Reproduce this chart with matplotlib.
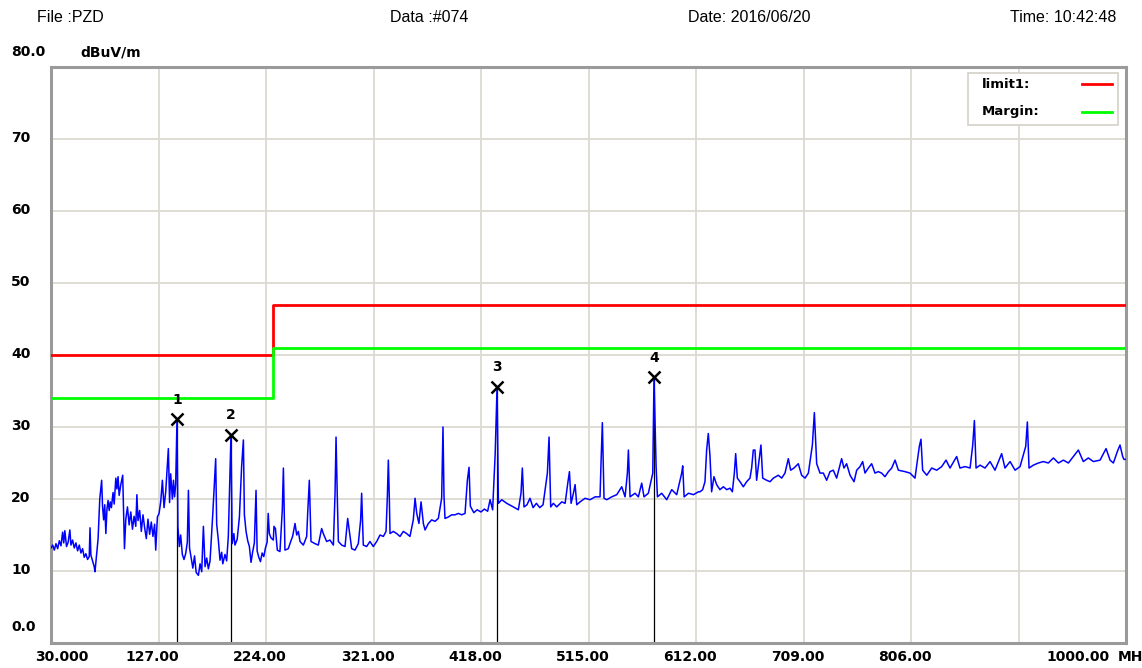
import matplotlib
matplotlib.use('Agg')
import matplotlib.pyplot as plt
import matplotlib.transforms as mtransforms
from matplotlib.patches import Rectangle
from matplotlib.lines import Line2D

# header
header_texts = ['File :PZD', 'Data :#074', 'Date: 2016/06/20', 'Time: 10:42:48']

# axis ticks
x_ticks = [30, 127, 224, 321, 418, 515, 612, 709, 806, 903, 1000]
x_tick_labels = ['30.000', '127.00', '224.00', '321.00', '418.00', '515.00',
                 '612.00', '709.00', '806.00', '', '1000.00']
y_ticks = [0, 10, 20, 30, 40, 50, 60, 70, 80]
y_tick_labels = ['0.0', '10', '20', '30', '40', '50', '60', '70', '80.0']

# limit lines (MHz, dBuV/m)
limit_freq = [30, 230, 230, 1000]
limit_level = [40, 40, 47, 47]
margin_level = [34, 34, 41, 41]
legend_labels = ['limit1:', 'Margin:']

# markers
marker_ids = ['1', '2', '3', '4']
marker_freq = [143.7, 192.4, 432.5, 574.1]
marker_level = [31.1, 28.9, 35.6, 36.9]

trace_low = [
    (30.0, 13.2), (31.5, 13.6), (33.0, 12.9), (34.5, 13.8), (36.0, 13.1), (37.5, 14.2),
    (39.0, 13.5), (40.5, 15.4), (41.5, 13.9), (42.5, 15.6), (44.0, 13.4), (45.5, 14.0),
    (47.0, 15.7), (48.0, 13.6), (49.5, 14.3), (51.0, 13.2), (52.5, 13.9), (54.0, 12.8),
    (55.5, 13.6), (57.0, 12.5), (58.5, 13.1), (60.0, 11.9), (61.5, 12.4), (63.0, 11.6),
    (64.5, 12.0), (65.2, 16.0), (66.0, 12.2), (67.5, 11.4), (69.0, 10.6), (69.7, 9.9),
    (71.0, 12.0), (72.5, 14.5), (74.0, 20.0), (75.7, 22.6), (76.5, 19.0), (77.5, 17.1),
    (78.5, 19.2), (79.5, 15.2), (80.5, 18.6), (81.5, 19.8), (82.5, 18.4), (83.5, 19.6),
    (84.5, 18.8), (86.0, 20.9), (87.0, 19.3), (88.5, 22.9), (89.5, 21.4), (90.5, 23.1),
    (91.5, 20.5), (93.0, 22.0), (94.7, 23.3), (95.5, 18.0), (96.3, 13.1), (97.5, 17.2),
    (99.0, 18.9), (100.5, 16.4), (102.0, 18.2), (103.5, 15.8), (105.0, 17.6), (106.5, 16.2),
    (107.5, 20.6), (108.5, 17.0), (110.0, 18.4), (111.5, 15.5), (113.0, 17.8), (114.5, 16.0),
    (116.0, 14.5), (117.5, 17.2), (119.0, 15.1), (120.5, 16.8), (122.0, 14.8), (123.5, 16.5),
    (124.5, 12.9), (126.0, 17.5), (127.5, 18.0), (129.0, 19.6), (130.5, 22.6), (132.0, 18.8),
    (133.5, 21.0), (135.9, 27.0), (137.0, 19.5), (138.0, 23.5), (139.5, 20.0), (140.5, 22.6),
    (141.5, 20.3), (142.5, 22.0), (143.7, 31.1), (144.5, 16.2), (145.8, 13.4), (147.0, 15.0),
    (148.5, 12.3), (150.0, 11.6), (151.5, 12.4), (153.0, 14.0), (154.0, 21.2), (155.0, 13.2),
    (156.5, 11.8), (158.0, 10.4), (159.5, 12.1), (161.0, 9.8), (163.0, 9.4), (164.5, 11.0),
    (166.0, 9.9), (167.5, 16.2), (169.0, 10.6), (170.5, 11.8), (172.0, 10.3), (173.5, 11.4),
    (176.0, 18.0), (178.6, 25.6), (179.5, 16.5), (181.0, 14.3), (182.5, 11.5), (184.0, 12.6),
    (185.0, 11.0), (187.0, 12.3), (188.5, 11.4), (190.0, 14.8), (191.0, 20.8), (192.4, 28.9),
    (193.5, 13.8), (195.0, 15.2), (196.0, 13.6), (198.0, 14.4), (200.0, 17.5), (202.0, 24.5),
    (203.6, 28.2), (204.5, 17.8), (206.0, 15.5), (207.5, 14.2), (209.0, 13.4), (210.5, 11.2),
    (212.0, 12.7), (213.5, 13.9), (215.0, 21.2), (216.0, 12.8), (217.5, 11.9), (219.0, 11.3),
    (220.5, 12.5), (222.0, 12.0), (223.5, 13.2), (225.0, 14.0), (226.0, 18.0), (227.0, 15.2),
]
trace_mid = [
    (228.5, 14.6), (230.6, 14.3), (231.2, 16.2), (232.5, 15.9), (234.2, 12.9), (236.6, 12.7),
    (238.7, 18.5), (239.7, 24.3), (240.6, 17.0), (241.1, 12.9), (244.1, 13.1), (246.3, 14.1),
    (248.0, 14.8), (250.2, 16.6), (251.7, 15.0), (253.2, 15.5), (254.7, 14.1), (257.7, 13.6),
    (260.7, 14.8), (261.6, 18.0), (263.1, 22.6), (264.6, 14.1), (268.2, 13.8), (271.2, 13.6),
    (274.2, 15.9), (275.7, 15.2), (278.7, 14.1), (281.7, 14.3), (284.8, 13.6), (286.3, 20.8),
    (287.2, 28.6), (288.3, 20.5), (289.3, 14.1), (292.3, 13.6), (295.3, 13.4), (297.7, 17.3),
    (299.2, 15.5), (301.3, 13.1), (304.3, 12.9), (307.3, 13.8), (309.4, 17.1), (310.3, 20.8),
    (311.8, 13.6), (314.8, 13.4), (317.8, 14.1), (320.8, 13.4), (323.9, 14.1), (326.9, 15.0),
    (329.9, 14.8), (332.3, 15.5), (333.5, 20.3), (334.4, 25.4), (335.3, 20.0), (335.9, 15.2),
    (338.9, 15.5), (341.9, 15.2), (344.9, 14.8), (347.9, 15.5), (350.9, 15.2), (353.9, 14.8),
    (356.9, 17.1), (358.5, 20.1), (360.0, 18.0), (362.0, 16.6), (363.9, 19.6), (366.0, 16.6),
    (367.5, 15.7), (370.5, 16.6), (373.5, 17.1), (376.5, 16.9), (379.5, 17.3), (382.5, 20.1),
    (383.7, 30.0), (384.6, 20.5), (385.5, 17.3), (388.5, 17.5), (391.5, 17.8), (394.5, 17.8),
    (397.6, 18.0), (400.6, 17.8), (403.6, 18.0), (405.7, 22.6), (407.2, 24.4), (408.4, 19.0),
]
trace_upper = [
    (411.5, 18.1), (414.5, 18.5), (418.0, 18.2), (421.0, 18.6), (424.0, 18.3), (426.2, 19.9),
    (428.5, 18.5), (430.8, 26.3), (432.5, 35.6), (433.7, 19.4), (436.7, 19.9), (441.2, 19.4),
    (447.2, 18.9), (451.7, 18.5), (454.1, 20.8), (455.3, 24.3), (456.8, 18.9), (459.5, 19.2),
    (462.2, 20.1), (465.0, 18.8), (468.0, 19.4), (471.0, 18.8), (474.0, 19.2), (477.9, 23.6),
    (479.4, 28.6), (480.9, 18.9), (483.3, 19.4), (486.3, 18.9), (490.9, 19.6), (493.9, 19.4),
    (496.3, 22.2), (497.8, 23.8), (499.3, 19.4), (501.4, 20.8), (502.9, 22.0), (504.4, 19.2),
    (507.4, 19.6), (511.9, 20.1), (516.4, 19.9), (521.0, 20.3), (525.4, 20.3), (526.3, 25.0),
    (527.5, 30.6), (529.0, 20.1), (531.5, 19.9), (536.0, 20.3), (540.5, 20.6), (545.0, 21.7),
    (548.0, 20.3), (550.1, 23.6), (551.0, 26.8), (552.5, 20.3), (557.0, 20.8), (560.0, 20.3),
    (563.0, 22.2), (565.1, 20.3), (569.0, 20.8), (573.0, 23.6), (574.1, 36.9), (576.0, 24.5),
    (577.2, 20.3), (581.0, 20.8), (585.6, 19.9), (590.1, 21.3), (594.6, 20.6), (599.1, 23.6),
    (600.0, 24.6), (601.3, 20.3), (605.2, 20.8), (609.7, 20.6), (614.2, 21.0),
]
trace_high = [
    (615.6, 21.0), (618.0, 21.3), (620.1, 22.4), (621.6, 26.8), (623.1, 29.1), (624.6, 26.0),
    (626.1, 21.0), (628.2, 23.1), (630.6, 22.0), (633.6, 21.3), (636.7, 21.7), (639.7, 21.3),
    (642.7, 21.5), (644.8, 21.0), (646.6, 23.6), (647.8, 26.3), (649.3, 22.9), (651.7, 22.4),
    (654.7, 21.7), (657.7, 22.4), (660.7, 22.9), (662.2, 24.3), (663.7, 26.8), (665.2, 26.8),
    (666.7, 22.6), (668.8, 25.2), (670.6, 27.5), (672.2, 22.9), (675.8, 22.6), (678.8, 22.4),
    (681.8, 22.9), (686.3, 23.3), (689.3, 22.9), (692.3, 23.6), (695.3, 25.6), (697.4, 24.0),
    (700.4, 24.3), (704.3, 24.9), (707.3, 23.3), (710.4, 22.9), (713.4, 23.6), (717.0, 27.5),
    (718.8, 32.0), (720.9, 24.9), (723.9, 23.6), (726.9, 23.6), (729.9, 22.6), (732.9, 23.8),
    (735.9, 24.0), (738.9, 22.9), (743.4, 25.6), (745.5, 24.3), (747.9, 24.9), (751.0, 23.3),
    (754.6, 22.4), (757.0, 24.0), (760.0, 24.5), (762.4, 25.2), (764.5, 23.6), (767.5, 24.3),
    (770.5, 24.9), (773.5, 23.6), (776.5, 23.8), (779.5, 23.6), (782.5, 23.1), (785.6, 23.8),
    (788.6, 24.3), (791.6, 25.4), (794.6, 24.0), (800.6, 23.8), (805.1, 23.6), (809.6, 22.9),
    (813.5, 27.3), (815.0, 28.3), (816.5, 24.0), (820.2, 23.3), (824.7, 24.3), (829.2, 24.0),
    (833.7, 24.5), (837.6, 25.4), (841.2, 24.3), (847.2, 25.9), (850.2, 24.3), (854.8, 24.5),
    (859.3, 24.3), (861.7, 27.5), (863.2, 30.9), (864.7, 24.3), (868.3, 24.7), (872.8, 24.3),
    (877.3, 25.2), (881.8, 24.0), (887.8, 26.3), (890.8, 24.3), (895.4, 25.2), (899.9, 24.0),
    (904.4, 24.5), (909.5, 27.3), (911.0, 30.7), (912.5, 24.3), (916.4, 24.7), (920.9, 25.0),
    (925.4, 25.2), (929.9, 25.0), (934.5, 25.7), (939.0, 25.0), (943.5, 25.4), (948.0, 25.0),
    (952.5, 25.9), (957.0, 26.8), (961.5, 25.2), (966.0, 25.7), (970.6, 25.2), (976.6, 25.4),
    (982.0, 27.0), (985.6, 25.4), (988.6, 25.0), (992.2, 26.6), (994.6, 27.5), (997.0, 25.9),
    (998.2, 25.5), (1000.0, 25.5),
]

trace = trace_low + trace_mid + trace_upper + trace_high
freq = [p[0] for p in trace]
level = [p[1] for p in trace]

W, H = 1142, 668
fig = plt.figure(figsize=(W / 100, H / 100), dpi=100)
ax_l, ax_r, ax_t, ax_b = 51, 1126, 67, 643
ax = fig.add_axes([ax_l / W, 1 - ax_b / H, (ax_r - ax_l) / W, (ax_b - ax_t) / H])
ax.set_xlim(30, 1000)
ax.set_ylim(0, 80)

# grid
ax.set_xticks(x_ticks)
ax.set_yticks(y_ticks)
ax.tick_params(length=0, labelbottom=False, labelleft=False)
ax.grid(True, color='#dcd9d2', linewidth=1.3)
ax.set_axisbelow(True)
for s in ax.spines.values():
    s.set_color('#9a9a9a')
    s.set_linewidth(2.2)

# limits
ax.plot(limit_freq, limit_level, color='#ff0000', linewidth=2.0, zorder=3)
ax.plot(limit_freq, margin_level, color='#00ff00', linewidth=2.0, zorder=3)

# marker lines under the trace
ax.vlines(marker_freq, 0, marker_level, color='black', linewidth=0.9, zorder=2)

# trace
ax.plot(freq, level, color='#0000ff', linewidth=1.1, zorder=4)

# markers
ax.plot(marker_freq, marker_level, 'x', color='black', markersize=8, mew=1.8, zorder=5)
for mid, f, v in zip(marker_ids, marker_freq, marker_level):
    ax.annotate(mid, (f, v), xytext=(0, 9), textcoords='offset points',
                ha='center', va='bottom', fontsize=10, fontweight='bold',
                family='DejaVu Sans', zorder=6)

# y labels
ytrans = ax.get_yaxis_transform()
y_label_x = (11 - ax_l) / (ax_r - ax_l)
px_per_db = (ax_b - ax_t) / 80
for v, lab in zip(y_ticks, y_tick_labels):
    yy = v + 1.5 / px_per_db
    if v == 0:
        yy = 16 / px_per_db
    if v == 80:
        yy = 80 + 15 / px_per_db
    ax.text(y_label_x, yy, lab, transform=ytrans, ha='left', va='center',
            fontsize=10, fontweight='bold', family='DejaVu Sans', clip_on=False)
ax.text((80 - ax_l) / (ax_r - ax_l), 80 + 15 / px_per_db, 'dBuV/m', transform=ytrans,
        ha='left', va='center', fontsize=10, fontweight='bold', family='DejaVu Sans',
        clip_on=False)

# x labels
xtrans = ax.get_xaxis_transform()
label_y = -14 / (ax_b - ax_t)
for i, (t, lab) in enumerate(zip(x_ticks, x_tick_labels)):
    if not lab:
        continue
    if i == 0:
        tr = mtransforms.offset_copy(xtrans, fig=fig, x=-16, y=0, units='dots')
        ha = 'left'
    elif i == len(x_ticks) - 1:
        tr = mtransforms.offset_copy(xtrans, fig=fig, x=-16, y=0, units='dots')
        ha = 'right'
    else:
        tr = mtransforms.offset_copy(xtrans, fig=fig, x=-6, y=0, units='dots')
        ha = 'center'
    ax.text(t, label_y, lab, transform=tr, ha=ha, va='center', fontsize=10,
            fontweight='bold', family='DejaVu Sans', clip_on=False)
# unit label runs off the right edge, as in the original screenshot
fig.text(1118 / W, 1 - 657 / H, 'MHz', ha='left', va='center', fontsize=10,
         fontweight='bold', family='DejaVu Sans')

# header
header_x = [37, 390, 688, 1010]
for hx, txt in zip(header_x, header_texts):
    fig.text(hx / W, 1 - 17 / H, txt, ha='left', va='center', fontsize=11.5,
             family='Liberation Sans')

# legend box
fig.add_artist(Rectangle((968 / W, 1 - 125 / H), 150 / W, 52 / H, transform=fig.transFigure,
                         facecolor='white', edgecolor='#d4d0c8', linewidth=1.2, zorder=10))
for k, (lab, col) in enumerate(zip(legend_labels, ['#ff0000', '#00ff00'])):
    yy = 1 - (84 + 28 * k) / H
    fig.text(982 / W, yy, lab, ha='left', va='center', fontsize=9.5, fontweight='bold',
             family='DejaVu Sans', zorder=11)
    fig.add_artist(Line2D([1082 / W, 1112 / W], [yy, yy], transform=fig.transFigure,
                          color=col, linewidth=2.0, zorder=11))

fig.savefig('out.png', dpi=100, facecolor='white')
